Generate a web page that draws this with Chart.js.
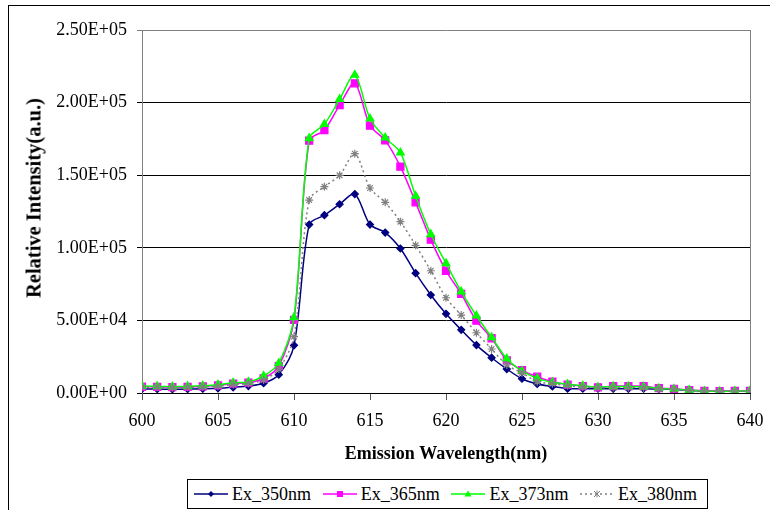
<!DOCTYPE html>
<html>
<head>
<meta charset="utf-8">
<script src="https://cdn.jsdelivr.net/npm/chart.js@4.4.1/dist/chart.umd.min.js"></script>
<style>
    body { margin: 0; background: #fff; }
    #wrap { position: relative; width: 770px; height: 510px; overflow: hidden; font-family: "Liberation Serif", "Times New Roman", serif; }
    #frame { position: absolute; left: 8px; top: 5px; width: 900px; height: 700px; border-left: 1px solid #000; border-top: 1px solid #000; }
    #chart { position: absolute; left: 0; top: 0; }
    #yTitle { position: absolute; left: 34px; top: 198px; transform: translate(-50%, -50%) rotate(-90deg); font-weight: bold; font-size: 20.5px; white-space: nowrap; color: #000; }
    #legend { position: absolute; left: 187px; top: 479px; width: 519px; height: 28px; border: 1px solid #000; background: #fff; }
    .item { position: absolute; top: 0; height: 28px; display: flex; align-items: center; font-size: 18px; color: #000; white-space: nowrap; }
    .item svg { margin-right: 4px; }
</style>
</head>
<body>
<div id="wrap">
    <div id="frame"></div>
    <canvas id="chart" width="770" height="510"></canvas>
    <div id="yTitle">Relative Intensity(a.u.)</div>
    <div id="legend"></div>
</div>
<script>
// wavelengths (nm)
const wavelengths = [600, 601, 602, 603, 604, 605, 606, 607, 608, 609, 610, 611, 612, 613, 614, 615, 616, 617, 618, 619, 620,
    621, 622, 623, 624, 625, 626, 627, 628, 629, 630, 631, 632, 633, 634, 635, 636, 637, 638, 639, 640];

const ex350 = [2800, 2700, 2600, 2700, 2900, 3200, 3900, 4800, 6700, 12600, 32800, 116000, 122500, 130000, 137000, 116000, 110500, 99500, 82500, 67500, 54500,
    43500, 33000, 24300, 16500, 9800, 6200, 4500, 3000, 3000, 3000, 2900, 2900, 3000, 2800, 2500, 1800, 1400, 1200, 1300, 1400];

const ex365 = [4300, 4200, 4000, 4200, 4600, 5200, 6500, 7200, 10000, 18500, 50300, 173800, 181000, 198300, 213300, 184100, 174000, 155900, 131300, 105600, 84200,
    68200, 49800, 37700, 22500, 15800, 11200, 7800, 5800, 4800, 3900, 4800, 4800, 4800, 3300, 2900, 2000, 1500, 1200, 1400, 1500];

const ex373 = [4800, 4600, 4400, 4600, 5000, 5700, 7100, 7600, 11700, 20500, 52100, 175400, 185100, 202300, 219000, 188900, 175800, 165500, 135700, 109300, 89300,
    69800, 53200, 38300, 23600, 15200, 10100, 7400, 6000, 5000, 4000, 4500, 4500, 4300, 3200, 2800, 2000, 1300, 1100, 1300, 1400];

const ex380 = [4000, 3900, 3700, 3900, 4200, 4700, 5800, 6500, 9000, 16500, 38800, 132900, 142100, 149900, 164800, 141200, 131300, 118000, 101700, 84200, 65600,
    53700, 41500, 30300, 19300, 13900, 7800, 6400, 5000, 4200, 3600, 3800, 3800, 3700, 3000, 2600, 1800, 1300, 1100, 1200, 1300];

const seriesNames = ['Ex_350nm', 'Ex_365nm', 'Ex_373nm', 'Ex_380nm'];

// format like Excel scientific: 2.50E+05
function sci(v) {
    if (v === 0) return '0.00E+00';
    const e = Math.floor(Math.log10(Math.abs(v)) + 1e-9);
    const m = v / Math.pow(10, e);
    return m.toFixed(2) + 'E' + (e < 0 ? '-' : '+') + String(Math.abs(e)).padStart(2, '0');
}

function toPoints(values) {
    return values.map((v, i) => ({ x: wavelengths[i], y: v }));
}

const styles = [
    { color: '#000080', point: 'rectRot', radius: 3.5, dash: [] },
    { color: '#FF00FF', point: 'rect', radius: 5, dash: [] },
    { color: '#00FF00', point: 'triangle', radius: 4.5, dash: [] },
    { color: '#808080', point: 'star', radius: 4, dash: [2, 3] }
];

const allValues = [ex350, ex365, ex373, ex380];

const datasets = allValues.map((vals, i) => ({
    label: seriesNames[i],
    data: toPoints(vals),
    borderColor: styles[i].color,
    backgroundColor: styles[i].color,
    pointBackgroundColor: styles[i].color,
    pointBorderColor: styles[i].color,
    pointStyle: styles[i].point,
    pointRadius: styles[i].radius,
    pointBorderWidth: 1.2,
    borderWidth: 1.5,
    borderDash: styles[i].dash,
    tension: 0.3,
    order: 4 - i
}));

// right edge of the plot area
const plotBorder = {
    id: 'plotBorder',
    beforeDatasetsDraw(chart) {
        const { ctx, chartArea: a } = chart;
        ctx.save();
        ctx.strokeStyle = '#808080';
        ctx.lineWidth = 1;
        ctx.beginPath();
        ctx.moveTo(Math.round(a.right) + 0.5, Math.round(a.top));
        ctx.lineTo(Math.round(a.right) + 0.5, Math.round(a.bottom));
        ctx.stroke();
        ctx.restore();
    }
};

Chart.defaults.font.family = '"Liberation Serif", "Times New Roman", serif';
Chart.defaults.color = '#000';

new Chart(document.getElementById('chart').getContext('2d'), {
    type: 'line',
    data: { datasets: datasets },
    plugins: [plotBorder],
    options: {
        responsive: false,
        animation: false,
        layout: { padding: { left: 10, top: 30, right: 20, bottom: 42 } },
        plugins: {
            legend: { display: false },
            tooltip: { enabled: false }
        },
        scales: {
            x: {
                type: 'linear',
                min: 600,
                max: 640,
                ticks: {
                    stepSize: 5,
                    padding: 10,
                    font: { size: 18 },
                    color: '#000'
                },
                grid: {
                    drawOnChartArea: false,
                    drawTicks: true,
                    tickLength: 7,
                    tickColor: '#555'
                },
                border: { color: '#000', width: 1 },
                title: {
                    display: true,
                    text: 'Emission Wavelength(nm)',
                    font: { size: 18, weight: 'bold' },
                    padding: { top: 0, bottom: 3 },
                    color: '#000'
                },
                afterFit: function(scale) {
                    scale.height = 75;
                    scale.paddingRight = 0;
                }
            },
            y: {
                min: 0,
                max: 250000,
                ticks: {
                    stepSize: 50000,
                    padding: 10,
                    font: { size: 18 },
                    color: '#000',
                    callback: function(value) { return sci(value); }
                },
                grid: {
                    color: function(ctx) { return ctx.tick && ctx.tick.value === 250000 ? '#808080' : '#000'; },
                    tickLength: 5,
                    lineWidth: 1
                },
                border: { color: '#808080', width: 1 },
                afterFit: function(scale) { scale.width = 132; }
            }
        }
    }
});

// legend in the Excel style: line sample with marker, then name
function legendSample(i) {
    const s = styles[i];
    const c = s.color;
    let marker = '';
    if (s.point === 'rectRot') marker = `<polygon points="17,2 20,5 17,8 14,5" fill="${c}"/>`;
    if (s.point === 'rect') marker = `<rect x="14" y="2" width="6" height="6" fill="${c}"/>`;
    if (s.point === 'triangle') marker = `<polygon points="17,1.5 20.5,7.5 13.5,7.5" fill="${c}"/>`;
    if (s.point === 'star') marker = `<path d="M14 2L20 8M20 2L14 8M17 1.5L17 8.5" stroke="${c}" stroke-width="1"/>`;
    const dash = s.dash.length ? `stroke-dasharray="2 3"` : '';
    return `<svg width="34" height="10"><line x1="0" y1="5" x2="34" y2="5" stroke="${c}" stroke-width="1.5" ${dash}/>${marker}</svg>`;
}

const legend = document.getElementById('legend');
seriesNames.forEach((name, i) => {
    const item = document.createElement('div');
    item.className = 'item';
    item.style.left = (6 + i * 128.7) + 'px';
    item.innerHTML = legendSample(i) + '<span>' + name + '</span>';
    legend.appendChild(item);
});
</script>
</body>
</html>
